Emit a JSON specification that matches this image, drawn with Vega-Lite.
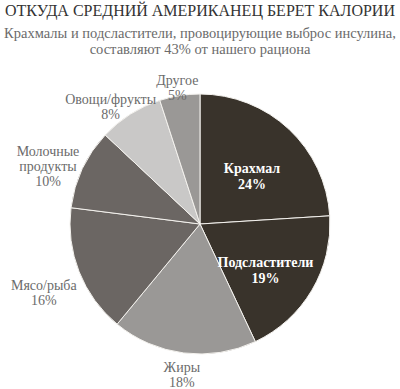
{
  "$schema": "https://vega.github.io/schema/vega-lite/v6.json",
  "width": 400,
  "height": 324,
  "autosize": {"type": "none"},
  "padding": {"top": 62, "left": 0, "right": 0, "bottom": 3},
  "background": "white",
  "title": {
    "text": "ОТКУДА СРЕДНИЙ АМЕРИКАНЕЦ БЕРЕТ КАЛОРИИ",
    "subtitle": ["Крахмалы и подсластители, провоцирующие выброс инсулина,", "составляют 43% от нашего рациона"],
    "anchor": "middle",
    "font": "Liberation Serif",
    "fontSize": 16,
    "fontWeight": "normal",
    "color": "#333333",
    "subtitleFont": "Liberation Serif",
    "subtitleFontSize": 14.5,
    "subtitleColor": "#6b6b6b",
    "subtitleLineHeight": 16,
    "subtitlePadding": 8,
    "offset": -5
  },
  "data": {
    "values": [
      {"cat": "Крахмал", "value": 24, "ord": 1, "label": "Крахмал\n24%", "inside": true},
      {"cat": "Подсластители", "value": 19, "ord": 2, "label": "Подсластители\n19%", "inside": true},
      {"cat": "Жиры", "value": 18, "ord": 3, "label": "Жиры\n18%", "inside": false},
      {"cat": "Мясо/рыба", "value": 16, "ord": 4, "label": "Мясо/рыба\n16%", "inside": false},
      {"cat": "Молочные продукты", "value": 10, "ord": 5, "label": "Молочные\nпродукты\n10%", "inside": false},
      {"cat": "Овощи/фрукты", "value": 8, "ord": 6, "label": "Овощи/фрукты\n8%", "inside": false},
      {"cat": "Другое", "value": 5, "ord": 7, "label": "Другое\n5%", "inside": false}
    ]
  },
  "encoding": {
    "theta": {"field": "value", "type": "quantitative", "stack": true},
    "order": {"field": "ord", "type": "quantitative"}
  },
  "layer": [
    {
      "mark": {"type": "arc", "outerRadius": 130, "stroke": "#f4f2ee", "strokeWidth": 1},
      "encoding": {
        "color": {
          "field": "cat",
          "type": "nominal",
          "scale": {
            "domain": ["Крахмал", "Подсластители", "Жиры", "Мясо/рыба", "Молочные продукты", "Овощи/фрукты", "Другое"],
            "range": ["#39332b", "#39332b", "#9a9896", "#6b6663", "#6b6663", "#c9c8c7", "#9a9896"]
          },
          "legend": null
        }
      }
    },
    {
      "mark": {"type": "text", "radius": 76, "lineBreak": "\n", "font": "Liberation Serif", "fontSize": 14, "fontWeight": "bold", "color": "white", "lineHeight": 16, "baseline": "middle", "align": "center"},
      "encoding": {"text": {"condition": {"test": "datum.inside", "field": "label"}, "value": ""}}
    },
    {
      "mark": {"type": "text", "radius": 145, "lineBreak": "\n", "font": "Liberation Serif", "fontSize": 14, "color": "#6b6b6b", "lineHeight": 15, "baseline": "middle", "align": "center"},
      "encoding": {"text": {"condition": {"test": "datum.cat == 'Жиры' || datum.cat == 'Другое'", "field": "label"}, "value": ""}}
    },
    {
      "mark": {"type": "text", "radius": 150, "dx": -9, "dy": 3, "lineBreak": "\n", "font": "Liberation Serif", "fontSize": 14, "color": "#6b6b6b", "lineHeight": 15, "baseline": "middle", "align": "center"},
      "encoding": {"text": {"condition": {"test": "datum.cat == 'Овощи/фрукты'", "field": "label"}, "value": ""}}
    },
    {
      "mark": {"type": "text", "radius": 168, "lineBreak": "\n", "font": "Liberation Serif", "fontSize": 14, "color": "#6b6b6b", "lineHeight": 15, "baseline": "middle", "align": "center"},
      "encoding": {"text": {"condition": {"test": "datum.cat == 'Мясо/рыба' || datum.cat == 'Молочные продукты'", "field": "label"}, "value": ""}}
    }
  ]
}
